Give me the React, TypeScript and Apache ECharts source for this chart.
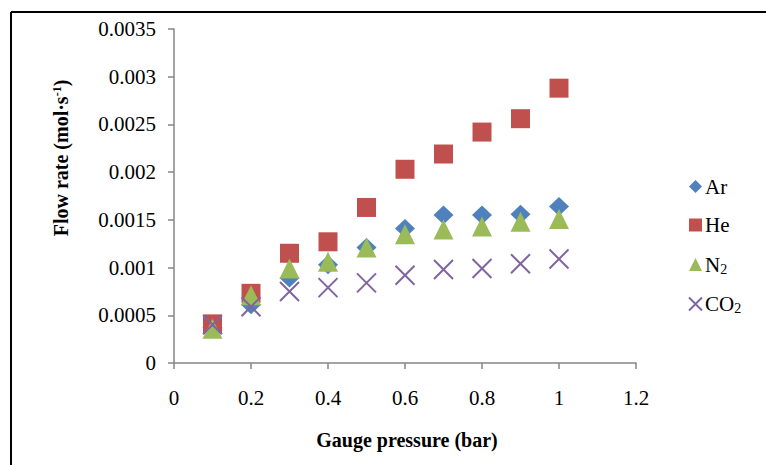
import React, { useEffect, useRef } from "react";
import * as echarts from "echarts";

const pressure = [0.1, 0.2, 0.3, 0.4, 0.5, 0.6, 0.7, 0.8, 0.9, 1.0];
const arValues = [0.00037, 0.00061, 0.00089, 0.00103, 0.00121, 0.00141, 0.00155, 0.00155, 0.00156, 0.00164];
const heValues = [0.00041, 0.00073, 0.00115, 0.00127, 0.00163, 0.00203, 0.00219, 0.00242, 0.00256, 0.00288];
const n2Values = [0.00036, 0.00071, 0.00099, 0.00106, 0.00121, 0.00135, 0.0014, 0.00143, 0.00148, 0.00151];
const co2Values = [0.0004, 0.00059, 0.00075, 0.00079, 0.00084, 0.00092, 0.00098, 0.00099, 0.00104, 0.00109];

const seriesNames = ["Ar", "He", "N2", "CO2"];
const xTitle = "Gauge pressure (bar)";

const FONT = "'Liberation Serif', 'Times New Roman', serif";
const CROSS = "path://M0,0L10,10M10,0L0,10";

export default function App() {
  const ref = useRef<HTMLDivElement>(null);
  useEffect(() => {
    if (!ref.current) return;
    const chart = echarts.init(ref.current, undefined, { renderer: "svg" });
    const pts = (vals: number[]) => pressure.map((p, i) => [p, vals[i]]);
    const option: any = {
      animation: false,
      backgroundColor: "#ffffff",
      grid: { left: 174, right: 130, top: 29, bottom: 102, containLabel: false },
      xAxis: {
        type: "value",
        min: 0,
        max: 1.2,
        interval: 0.2,
        axisLine: { show: true, lineStyle: { color: "#868686", width: 1.5 } },
        axisTick: { show: true, length: 6, lineStyle: { color: "#868686", width: 1.5 } },
        splitLine: { show: false },
        axisLabel: {
          margin: 24,
          fontFamily: FONT,
          fontSize: 21,
          color: "#000",
          formatter: (v: number) => String(Math.round(v * 10) / 10),
        },
      },
      yAxis: {
        type: "value",
        min: 0,
        max: 0.0035,
        interval: 0.0005,
        axisLine: { show: true, lineStyle: { color: "#868686", width: 1.5 } },
        axisTick: { show: true, length: 6, lineStyle: { color: "#868686", width: 1.5 } },
        splitLine: { show: false },
        axisLabel: {
          margin: 18,
          fontFamily: FONT,
          fontSize: 21,
          color: "#000",
          formatter: (v: number) => String(Math.round(v * 10000) / 10000),
        },
      },
      legend: {
        orient: "vertical",
        left: 683,
        top: 170,
        itemGap: 15.5,
        itemWidth: 13,
        itemHeight: 13,
        data: seriesNames,
        formatter: (name: string) => {
          if (name === "N2") return "N{sub|2}";
          if (name === "CO2") return "CO{sub|2}";
          return name;
        },
        textStyle: {
          fontFamily: FONT,
          fontSize: 21,
          color: "#000",
          lineHeight: 23,
          padding: [0, 0, 0, -2],
          rich: {
            sub: { fontFamily: FONT, fontSize: 14, verticalAlign: "bottom", lineHeight: 23, padding: [10, 0, 0, 0] },
          },
        },
      },
      series: [
        {
          name: "Ar",
          type: "scatter",
          symbol: "diamond",
          symbolSize: [20, 19],
          itemStyle: { color: "#4F81BD", opacity: 1 },
          data: pts(arValues),
        },
        {
          name: "He",
          type: "scatter",
          symbol: "rect",
          symbolSize: 19,
          itemStyle: { color: "#C0504D", opacity: 1 },
          data: pts(heValues),
        },
        {
          name: "N2",
          type: "scatter",
          symbol: "triangle",
          symbolSize: 20,
          itemStyle: { color: "#9BBB59", opacity: 1 },
          data: pts(n2Values),
        },
        {
          name: "CO2",
          type: "scatter",
          symbol: CROSS,
          symbolSize: 19,
          itemStyle: { color: "transparent", borderColor: "#8064A2", borderWidth: 2, opacity: 1 },
          data: pts(co2Values),
        },
      ],
      graphic: [
        { type: "line", shape: { x1: 11, y1: 12, x2: 766, y2: 12 }, style: { stroke: "#000", lineWidth: 2 } },
        { type: "line", shape: { x1: 11, y1: 12, x2: 11, y2: 465 }, style: { stroke: "#000", lineWidth: 2 } },
        {
          type: "text",
          x: 61,
          y: 158,
          rotation: Math.PI / 2,
          style: {
            text: "Flow rate (mol·s{sup|-1})",
            fontFamily: FONT,
            fontWeight: "bold",
            fontSize: 20,
            fill: "#000",
            align: "center",
            verticalAlign: "middle",
            rich: {
              sup: { fontFamily: FONT, fontWeight: "bold", fontSize: 12, verticalAlign: "top", padding: [0, 0, 8, 0] },
            },
          },
        },
        {
          type: "text",
          x: 407,
          y: 440,
          style: {
            text: xTitle,
            fontFamily: FONT,
            fontWeight: "bold",
            fontSize: 20,
            fill: "#000",
            align: "center",
            verticalAlign: "middle",
          },
        },
      ],
    };
    chart.setOption(option);
    return () => chart.dispose();
  }, []);
  return <div ref={ref} style={{ width: 766, height: 465, position: "absolute", left: 0, top: 0 }} />;
}
